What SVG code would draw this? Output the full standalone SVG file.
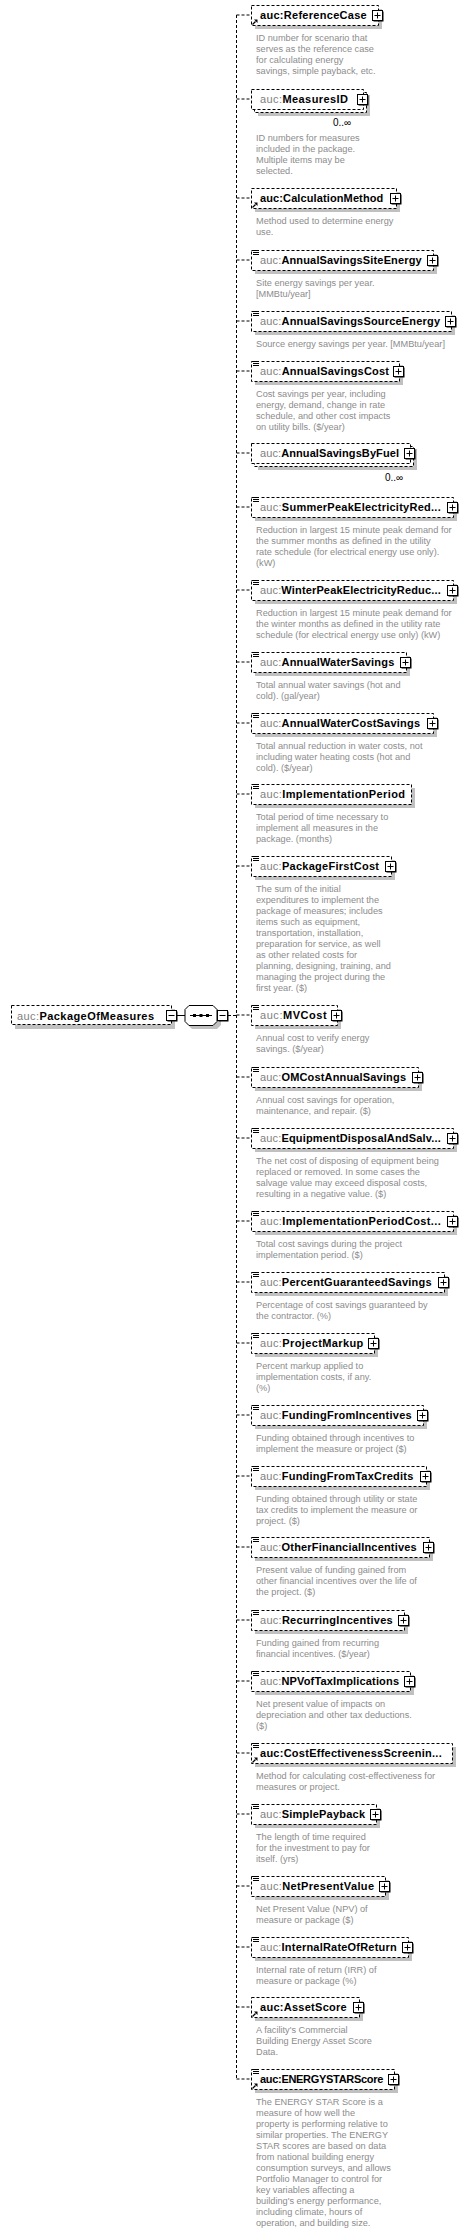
<svg xmlns="http://www.w3.org/2000/svg" xmlns:xlink="http://www.w3.org/1999/xlink" width="467" height="2233" viewBox="0 0 467 2233">
<style>
.sh{fill:#c0c0c0}
.box{fill:#fff;stroke:#000;stroke-dasharray:3 2}
.con{fill:none;stroke:#000;stroke-dasharray:3 2}
.lbl{font-family:"Liberation Sans",Arial,sans-serif;font-size:11px}
.pre{fill:#808080}
.nm{font-weight:bold;fill:#000}
.ref{font-weight:bold;fill:#000}
.desc{font-family:"Liberation Sans",Arial,sans-serif;font-size:9.2px;fill:#8c8c8c}
.occ{font-family:"Liberation Sans",Arial,sans-serif;font-size:10px;fill:#000}
</style>
<defs>
<g id="plus"><rect x="1.5" y="1.5" width="10" height="10" fill="#000"/><rect x="0.5" y="0.5" width="10" height="10" fill="#fff" stroke="#000"/><path d="M2.5,5.5H8.5M5.5,2.5V8.5" stroke="#000"/></g>
<g id="minus"><rect x="1.5" y="1.5" width="10" height="10" fill="#000"/><rect x="0.5" y="0.5" width="10" height="10" fill="#fff" stroke="#000"/><path d="M2.5,5.5H8.5" stroke="#000"/></g>
<g id="eq"><rect x="0" y="-1" width="7" height="6" fill="#fff"/><path d="M0,0H6M0,2H6M0,4H6" stroke="#000"/></g>
<g id="arr"><path d="M0.5,5.5L3.5,2.5" stroke="#000" stroke-width="1.3"/><polygon points="2,0.5 5.5,0.5 5.5,4" fill="#000"/></g>
</defs>

<g id="connectors">
<path class="con" d="M236.5,15V2079"/>
<path class="con" d="M236.5,15H251.5M236.5,99H251.5M236.5,198H251.5M236.5,260H251.5M236.5,321H251.5M236.5,371H251.5M236.5,453H251.5M236.5,507H251.5M236.5,590H251.5M236.5,662H251.5M236.5,723H251.5M236.5,794H251.5M236.5,866H251.5M236.5,1015H251.5M236.5,1077H251.5M236.5,1138H251.5M236.5,1221H251.5M236.5,1282H251.5M236.5,1343H251.5M236.5,1415H251.5M236.5,1476H251.5M236.5,1547H251.5M236.5,1620H251.5M236.5,1681H251.5M236.5,1753H251.5M236.5,1814H251.5M236.5,1886H251.5M236.5,1947H251.5M236.5,2007H251.5M236.5,2079H251.5"/>
<path d="M177,1015.5H185" stroke="#000" fill="none"/>
<path class="con" d="M228,1015.5H236.5"/>
</g>

<g id="root">
<rect class="sh" x="15" y="1009" width="160" height="20"/>
<rect class="box" x="11.5" y="1005.5" width="160" height="19"/>
<text class="lbl" x="17" y="1019.5" textLength="137"><tspan class="pre">auc:</tspan><tspan class="nm">PackageOfMeasures</tspan></text>
<use xlink:href="#minus" x="166" y="1010"/>
</g>

<g id="sequence">
<path d="M192,1009H217L221,1013V1025L217,1029H192L188,1025V1013Z" fill="#c0c0c0"/>
<path d="M189,1005.5H213L217,1009.5V1021.5L213,1025.5H189L185,1021.5V1009.5Z" fill="#fff" stroke="#000"/>
<path d="M190,1015.5H212" stroke="#000"/>
<rect x="193" y="1014" width="3" height="3" fill="#000"/>
<rect x="199.5" y="1014" width="3" height="3" fill="#000"/>
<rect x="206" y="1014" width="3" height="3" fill="#000"/>
<use xlink:href="#minus" x="217" y="1010"/>
</g>

<g id="n1" transform="translate(0,15)">
<rect class="sh" x="255" y="-6" width="127" height="20"/>
<rect class="box" x="251.5" y="-9.5" width="127" height="20"/>
<use xlink:href="#arr" x="252" y="4"/>
<text class="lbl ref" x="260" y="4" textLength="106.7">auc:ReferenceCase</text>
<use xlink:href="#plus" x="372" y="-5"/>
<text class="desc" x="256" y="25.5">ID number for scenario that</text>
<text class="desc" x="256" y="36.5">serves as the reference case</text>
<text class="desc" x="256" y="47.5">for calculating energy</text>
<text class="desc" x="256" y="58.5">savings, simple payback, etc.</text>
</g>

<g id="n2" transform="translate(0,99)">
<rect class="sh" x="258" y="-4" width="112" height="21"/>
<rect class="box" x="254.5" y="-6.5" width="112" height="20"/>
<rect class="box" x="251.5" y="-9.5" width="112" height="20"/>
<text class="lbl" x="260" y="4" textLength="88"><tspan class="pre">auc:</tspan><tspan class="nm">MeasuresID</tspan></text>
<use xlink:href="#plus" x="357" y="-5"/>
<text class="occ" x="333" y="27">0..∞</text>
<text class="desc" x="256" y="41.5">ID numbers for measures</text>
<text class="desc" x="256" y="52.5">included in the package.</text>
<text class="desc" x="256" y="63.5">Multiple items may be</text>
<text class="desc" x="256" y="74.5">selected.</text>
</g>

<g id="n3" transform="translate(0,198)">
<rect class="sh" x="255" y="-6" width="145" height="20"/>
<rect class="box" x="251.5" y="-9.5" width="145" height="20"/>
<use xlink:href="#arr" x="252" y="4"/>
<text class="lbl ref" x="260" y="4" textLength="123.3">auc:CalculationMethod</text>
<use xlink:href="#plus" x="390" y="-5"/>
<text class="desc" x="256" y="25.5">Method used to determine energy</text>
<text class="desc" x="256" y="36.5">use.</text>
</g>

<g id="n4" transform="translate(0,260)">
<rect class="sh" x="255" y="-6" width="182" height="20"/>
<rect class="box" x="251.5" y="-9.5" width="182" height="20"/>
<use xlink:href="#eq" x="253" y="-9.5"/>
<text class="lbl" x="260" y="4" textLength="161.7"><tspan class="pre">auc:</tspan><tspan class="nm">AnnualSavingsSiteEnergy</tspan></text>
<use xlink:href="#plus" x="427" y="-5"/>
<text class="desc" x="256" y="25.5">Site energy savings per year.</text>
<text class="desc" x="256" y="36.5">[MMBtu/year]</text>
</g>

<g id="n5" transform="translate(0,321)">
<rect class="sh" x="255" y="-6" width="200" height="20"/>
<rect class="box" x="251.5" y="-9.5" width="200" height="20"/>
<use xlink:href="#eq" x="253" y="-9.5"/>
<text class="lbl" x="260" y="4" textLength="180"><tspan class="pre">auc:</tspan><tspan class="nm">AnnualSavingsSourceEnergy</tspan></text>
<use xlink:href="#plus" x="445" y="-5"/>
<text class="desc" x="256" y="25.5">Source energy savings per year. [MMBtu/year]</text>
</g>

<g id="n6" transform="translate(0,371)">
<rect class="sh" x="255" y="-6" width="148" height="20"/>
<rect class="box" x="251.5" y="-9.5" width="148" height="20"/>
<use xlink:href="#eq" x="253" y="-9.5"/>
<text class="lbl" x="260" y="4" textLength="129"><tspan class="pre">auc:</tspan><tspan class="nm">AnnualSavingsCost</tspan></text>
<use xlink:href="#plus" x="393" y="-5"/>
<text class="desc" x="256" y="25.5">Cost savings per year, including</text>
<text class="desc" x="256" y="36.5">energy, demand, change in rate</text>
<text class="desc" x="256" y="47.5">schedule, and other cost impacts</text>
<text class="desc" x="256" y="58.5">on utility bills. ($/year)</text>
</g>

<g id="n7" transform="translate(0,453)">
<rect class="sh" x="258" y="-4" width="159" height="21"/>
<rect class="box" x="254.5" y="-6.5" width="159" height="20"/>
<rect class="box" x="251.5" y="-9.5" width="159" height="20"/>
<text class="lbl" x="260" y="4" textLength="139"><tspan class="pre">auc:</tspan><tspan class="nm">AnnualSavingsByFuel</tspan></text>
<use xlink:href="#plus" x="404" y="-5"/>
<text class="occ" x="385" y="28">0..∞</text>
</g>

<g id="n8" transform="translate(0,507)">
<rect class="sh" x="255" y="-6" width="202" height="20"/>
<rect class="box" x="251.5" y="-9.5" width="202" height="20"/>
<use xlink:href="#eq" x="253" y="-9.5"/>
<text class="lbl" x="260" y="4" textLength="180.7"><tspan class="pre">auc:</tspan><tspan class="nm">SummerPeakElectricityRed...</tspan></text>
<use xlink:href="#plus" x="447" y="-5"/>
<text class="desc" x="256" y="25.5">Reduction in largest 15 minute peak demand for</text>
<text class="desc" x="256" y="36.5">the summer months as defined in the utility</text>
<text class="desc" x="256" y="47.5">rate schedule (for electrical energy use only).</text>
<text class="desc" x="256" y="58.5">(kW)</text>
</g>

<g id="n9" transform="translate(0,590)">
<rect class="sh" x="255" y="-6" width="202" height="20"/>
<rect class="box" x="251.5" y="-9.5" width="202" height="20"/>
<use xlink:href="#eq" x="253" y="-9.5"/>
<text class="lbl" x="260" y="4" textLength="180.7"><tspan class="pre">auc:</tspan><tspan class="nm">WinterPeakElectricityReduc...</tspan></text>
<use xlink:href="#plus" x="447" y="-5"/>
<text class="desc" x="256" y="25.5">Reduction in largest 15 minute peak demand for</text>
<text class="desc" x="256" y="36.5">the winter months as defined in the utility rate</text>
<text class="desc" x="256" y="47.5">schedule (for electrical energy use only) (kW)</text>
</g>

<g id="n10" transform="translate(0,662)">
<rect class="sh" x="255" y="-6" width="155" height="20"/>
<rect class="box" x="251.5" y="-9.5" width="155" height="20"/>
<use xlink:href="#eq" x="253" y="-9.5"/>
<text class="lbl" x="260" y="4" textLength="134.3"><tspan class="pre">auc:</tspan><tspan class="nm">AnnualWaterSavings</tspan></text>
<use xlink:href="#plus" x="400" y="-5"/>
<text class="desc" x="256" y="25.5">Total annual water savings (hot and</text>
<text class="desc" x="256" y="36.5">cold). (gal/year)</text>
</g>

<g id="n11" transform="translate(0,723)">
<rect class="sh" x="255" y="-6" width="182" height="20"/>
<rect class="box" x="251.5" y="-9.5" width="182" height="20"/>
<use xlink:href="#eq" x="253" y="-9.5"/>
<text class="lbl" x="260" y="4" textLength="160"><tspan class="pre">auc:</tspan><tspan class="nm">AnnualWaterCostSavings</tspan></text>
<use xlink:href="#plus" x="427" y="-5"/>
<text class="desc" x="256" y="25.5">Total annual reduction in water costs, not</text>
<text class="desc" x="256" y="36.5">including water heating costs (hot and</text>
<text class="desc" x="256" y="47.5">cold). ($/year)</text>
</g>

<g id="n12" transform="translate(0,794)">
<rect class="sh" x="255" y="-6" width="160" height="20"/>
<rect class="box" x="251.5" y="-9.5" width="160" height="20"/>
<use xlink:href="#eq" x="253" y="-9.5"/>
<text class="lbl" x="260" y="4" textLength="145"><tspan class="pre">auc:</tspan><tspan class="nm">ImplementationPeriod</tspan></text>
<text class="desc" x="256" y="25.5">Total period of time necessary to</text>
<text class="desc" x="256" y="36.5">implement all measures in the</text>
<text class="desc" x="256" y="47.5">package. (months)</text>
</g>

<g id="n13" transform="translate(0,866)">
<rect class="sh" x="255" y="-6" width="140" height="20"/>
<rect class="box" x="251.5" y="-9.5" width="140" height="20"/>
<use xlink:href="#eq" x="253" y="-9.5"/>
<text class="lbl" x="260" y="4" textLength="119"><tspan class="pre">auc:</tspan><tspan class="nm">PackageFirstCost</tspan></text>
<use xlink:href="#plus" x="385" y="-5"/>
<text class="desc" x="256" y="25.5">The sum of the initial</text>
<text class="desc" x="256" y="36.5">expenditures to implement the</text>
<text class="desc" x="256" y="47.5">package of measures; includes</text>
<text class="desc" x="256" y="58.5">items such as equipment,</text>
<text class="desc" x="256" y="69.5">transportation, installation,</text>
<text class="desc" x="256" y="80.5">preparation for service, as well</text>
<text class="desc" x="256" y="91.5">as other related costs for</text>
<text class="desc" x="256" y="102.5">planning, designing, training, and</text>
<text class="desc" x="256" y="113.5">managing the project during the</text>
<text class="desc" x="256" y="124.5">first year. ($)</text>
</g>

<g id="n14" transform="translate(0,1015)">
<rect class="sh" x="255" y="-6" width="86" height="20"/>
<rect class="box" x="251.5" y="-9.5" width="86" height="20"/>
<use xlink:href="#eq" x="253" y="-9.5"/>
<text class="lbl" x="260" y="4" textLength="66.7"><tspan class="pre">auc:</tspan><tspan class="nm">MVCost</tspan></text>
<use xlink:href="#plus" x="331" y="-5"/>
<text class="desc" x="256" y="25.5">Annual cost to verify energy</text>
<text class="desc" x="256" y="36.5">savings. ($/year)</text>
</g>

<g id="n15" transform="translate(0,1077)">
<rect class="sh" x="255" y="-6" width="167" height="20"/>
<rect class="box" x="251.5" y="-9.5" width="167" height="20"/>
<use xlink:href="#eq" x="253" y="-9.5"/>
<text class="lbl" x="260" y="4" textLength="146"><tspan class="pre">auc:</tspan><tspan class="nm">OMCostAnnualSavings</tspan></text>
<use xlink:href="#plus" x="412" y="-5"/>
<text class="desc" x="256" y="25.5">Annual cost savings for operation,</text>
<text class="desc" x="256" y="36.5">maintenance, and repair. ($)</text>
</g>

<g id="n16" transform="translate(0,1138)">
<rect class="sh" x="255" y="-6" width="202" height="20"/>
<rect class="box" x="251.5" y="-9.5" width="202" height="20"/>
<use xlink:href="#eq" x="253" y="-9.5"/>
<text class="lbl" x="260" y="4" textLength="180.7"><tspan class="pre">auc:</tspan><tspan class="nm">EquipmentDisposalAndSalv...</tspan></text>
<use xlink:href="#plus" x="447" y="-5"/>
<text class="desc" x="256" y="25.5">The net cost of disposing of equipment being</text>
<text class="desc" x="256" y="36.5">replaced or removed. In some cases the</text>
<text class="desc" x="256" y="47.5">salvage value may exceed disposal costs,</text>
<text class="desc" x="256" y="58.5">resulting in a negative value. ($)</text>
</g>

<g id="n17" transform="translate(0,1221)">
<rect class="sh" x="255" y="-6" width="202" height="20"/>
<rect class="box" x="251.5" y="-9.5" width="202" height="20"/>
<use xlink:href="#eq" x="253" y="-9.5"/>
<text class="lbl" x="260" y="4" textLength="180.7"><tspan class="pre">auc:</tspan><tspan class="nm">ImplementationPeriodCost...</tspan></text>
<use xlink:href="#plus" x="447" y="-5"/>
<text class="desc" x="256" y="25.5">Total cost savings during the project</text>
<text class="desc" x="256" y="36.5">implementation period. ($)</text>
</g>

<g id="n18" transform="translate(0,1282)">
<rect class="sh" x="255" y="-6" width="193" height="20"/>
<rect class="box" x="251.5" y="-9.5" width="193" height="20"/>
<use xlink:href="#eq" x="253" y="-9.5"/>
<text class="lbl" x="260" y="4" textLength="171.7"><tspan class="pre">auc:</tspan><tspan class="nm">PercentGuaranteedSavings</tspan></text>
<use xlink:href="#plus" x="438" y="-5"/>
<text class="desc" x="256" y="25.5">Percentage of cost savings guaranteed by</text>
<text class="desc" x="256" y="36.5">the contractor. (%)</text>
</g>

<g id="n19" transform="translate(0,1343)">
<rect class="sh" x="255" y="-6" width="123" height="20"/>
<rect class="box" x="251.5" y="-9.5" width="123" height="20"/>
<use xlink:href="#eq" x="253" y="-9.5"/>
<text class="lbl" x="260" y="4" textLength="103.3"><tspan class="pre">auc:</tspan><tspan class="nm">ProjectMarkup</tspan></text>
<use xlink:href="#plus" x="368" y="-5"/>
<text class="desc" x="256" y="25.5">Percent markup applied to</text>
<text class="desc" x="256" y="36.5">implementation costs, if any.</text>
<text class="desc" x="256" y="47.5">(%)</text>
</g>

<g id="n20" transform="translate(0,1415)">
<rect class="sh" x="255" y="-6" width="172" height="20"/>
<rect class="box" x="251.5" y="-9.5" width="172" height="20"/>
<use xlink:href="#eq" x="253" y="-9.5"/>
<text class="lbl" x="260" y="4" textLength="151.7"><tspan class="pre">auc:</tspan><tspan class="nm">FundingFromIncentives</tspan></text>
<use xlink:href="#plus" x="417" y="-5"/>
<text class="desc" x="256" y="25.5">Funding obtained through incentives to</text>
<text class="desc" x="256" y="36.5">implement the measure or project ($)</text>
</g>

<g id="n21" transform="translate(0,1476)">
<rect class="sh" x="255" y="-6" width="175" height="20"/>
<rect class="box" x="251.5" y="-9.5" width="175" height="20"/>
<use xlink:href="#eq" x="253" y="-9.5"/>
<text class="lbl" x="260" y="4" textLength="153.3"><tspan class="pre">auc:</tspan><tspan class="nm">FundingFromTaxCredits</tspan></text>
<use xlink:href="#plus" x="420" y="-5"/>
<text class="desc" x="256" y="25.5">Funding obtained through utility or state</text>
<text class="desc" x="256" y="36.5">tax credits to implement the measure or</text>
<text class="desc" x="256" y="47.5">project. ($)</text>
</g>

<g id="n22" transform="translate(0,1547)">
<rect class="sh" x="255" y="-6" width="178" height="20"/>
<rect class="box" x="251.5" y="-9.5" width="178" height="20"/>
<use xlink:href="#eq" x="253" y="-9.5"/>
<text class="lbl" x="260" y="4" textLength="156.7"><tspan class="pre">auc:</tspan><tspan class="nm">OtherFinancialIncentives</tspan></text>
<use xlink:href="#plus" x="423" y="-5"/>
<text class="desc" x="256" y="25.5">Present value of funding gained from</text>
<text class="desc" x="256" y="36.5">other financial incentives over the life of</text>
<text class="desc" x="256" y="47.5">the project. ($)</text>
</g>

<g id="n23" transform="translate(0,1620)">
<rect class="sh" x="255" y="-6" width="153" height="20"/>
<rect class="box" x="251.5" y="-9.5" width="153" height="20"/>
<use xlink:href="#eq" x="253" y="-9.5"/>
<text class="lbl" x="260" y="4" textLength="132.7"><tspan class="pre">auc:</tspan><tspan class="nm">RecurringIncentives</tspan></text>
<use xlink:href="#plus" x="398" y="-5"/>
<text class="desc" x="256" y="25.5">Funding gained from recurring</text>
<text class="desc" x="256" y="36.5">financial incentives. ($/year)</text>
</g>

<g id="n24" transform="translate(0,1681)">
<rect class="sh" x="255" y="-6" width="159" height="20"/>
<rect class="box" x="251.5" y="-9.5" width="159" height="20"/>
<use xlink:href="#eq" x="253" y="-9.5"/>
<text class="lbl" x="260" y="4" textLength="139"><tspan class="pre">auc:</tspan><tspan class="nm">NPVofTaxImplications</tspan></text>
<use xlink:href="#plus" x="404" y="-5"/>
<text class="desc" x="256" y="25.5">Net present value of impacts on</text>
<text class="desc" x="256" y="36.5">depreciation and other tax deductions.</text>
<text class="desc" x="256" y="47.5">($)</text>
</g>

<g id="n25" transform="translate(0,1753)">
<rect class="sh" x="255" y="-6" width="201" height="20"/>
<rect class="box" x="251.5" y="-9.5" width="201" height="20"/>
<use xlink:href="#eq" x="253" y="-9.5"/>
<use xlink:href="#arr" x="252" y="4"/>
<text class="lbl ref" x="260" y="4" textLength="181.7">auc:CostEffectivenessScreenin...</text>
<text class="desc" x="256" y="25.5">Method for calculating cost-effectiveness for</text>
<text class="desc" x="256" y="36.5">measures or project.</text>
</g>

<g id="n26" transform="translate(0,1814)">
<rect class="sh" x="255" y="-6" width="125" height="20"/>
<rect class="box" x="251.5" y="-9.5" width="125" height="20"/>
<use xlink:href="#eq" x="253" y="-9.5"/>
<text class="lbl" x="260" y="4" textLength="105"><tspan class="pre">auc:</tspan><tspan class="nm">SimplePayback</tspan></text>
<use xlink:href="#plus" x="370" y="-5"/>
<text class="desc" x="256" y="25.5">The length of time required</text>
<text class="desc" x="256" y="36.5">for the investment to pay for</text>
<text class="desc" x="256" y="47.5">itself. (yrs)</text>
</g>

<g id="n27" transform="translate(0,1886)">
<rect class="sh" x="255" y="-6" width="134" height="20"/>
<rect class="box" x="251.5" y="-9.5" width="134" height="20"/>
<use xlink:href="#eq" x="253" y="-9.5"/>
<text class="lbl" x="260" y="4" textLength="114"><tspan class="pre">auc:</tspan><tspan class="nm">NetPresentValue</tspan></text>
<use xlink:href="#plus" x="379" y="-5"/>
<text class="desc" x="256" y="25.5">Net Present Value (NPV) of</text>
<text class="desc" x="256" y="36.5">measure or package ($)</text>
</g>

<g id="n28" transform="translate(0,1947)">
<rect class="sh" x="255" y="-6" width="157" height="20"/>
<rect class="box" x="251.5" y="-9.5" width="157" height="20"/>
<use xlink:href="#eq" x="253" y="-9.5"/>
<text class="lbl" x="260" y="4" textLength="136.7"><tspan class="pre">auc:</tspan><tspan class="nm">InternalRateOfReturn</tspan></text>
<use xlink:href="#plus" x="402" y="-5"/>
<text class="desc" x="256" y="25.5">Internal rate of return (IRR) of</text>
<text class="desc" x="256" y="36.5">measure or package (%)</text>
</g>

<g id="n29" transform="translate(0,2007)">
<rect class="sh" x="255" y="-6" width="108" height="20"/>
<rect class="box" x="251.5" y="-9.5" width="108" height="20"/>
<use xlink:href="#arr" x="252" y="4"/>
<text class="lbl ref" x="260" y="4" textLength="86.7">auc:AssetScore</text>
<use xlink:href="#plus" x="353" y="-5"/>
<text class="desc" x="256" y="25.5">A facility's Commercial</text>
<text class="desc" x="256" y="36.5">Building Energy Asset Score</text>
<text class="desc" x="256" y="47.5">Data.</text>
</g>

<g id="n30" transform="translate(0,2079)">
<rect class="sh" x="255" y="-6" width="143" height="20"/>
<rect class="box" x="251.5" y="-9.5" width="143" height="20"/>
<use xlink:href="#eq" x="253" y="-9.5"/>
<use xlink:href="#arr" x="252" y="4"/>
<text class="lbl ref" x="260" y="4" textLength="123.3">auc:ENERGYSTARScore</text>
<use xlink:href="#plus" x="388" y="-5"/>
<text class="desc" x="256" y="25.5">The ENERGY STAR Score is a</text>
<text class="desc" x="256" y="36.5">measure of how well the</text>
<text class="desc" x="256" y="47.5">property is performing relative to</text>
<text class="desc" x="256" y="58.5">similar properties. The ENERGY</text>
<text class="desc" x="256" y="69.5">STAR scores are based on data</text>
<text class="desc" x="256" y="80.5">from national building energy</text>
<text class="desc" x="256" y="91.5">consumption surveys, and allows</text>
<text class="desc" x="256" y="102.5">Portfolio Manager to control for</text>
<text class="desc" x="256" y="113.5">key variables affecting a</text>
<text class="desc" x="256" y="124.5">building's energy performance,</text>
<text class="desc" x="256" y="135.5">including climate, hours of</text>
<text class="desc" x="256" y="146.5">operation, and building size.</text>
</g>
</svg>
